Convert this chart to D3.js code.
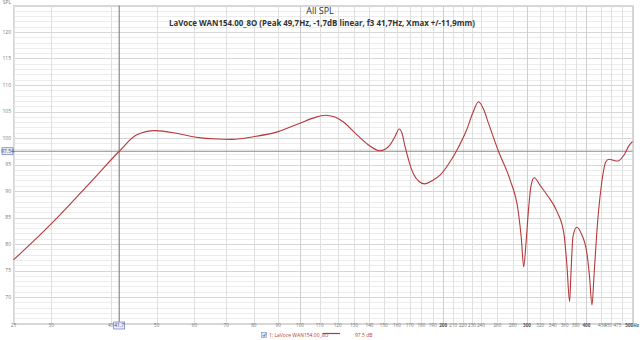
<!DOCTYPE html>
<html lang="en">
<head>
<meta charset="UTF-8">
<title>All SPL</title>
<script src="https://d3js.org/d3.v7.min.js"></script>
<style>
    body { margin: 0; background: #fff; }
    svg { display: block; font-family: "Open Sans", "Noto Sans", sans-serif; }
    .tick-label { font-size: 5px; fill: #777; }
    .x-label { font-size: 4.6px; }
</style>
</head>
<body>
<svg width="640" height="340"></svg>
<script>
// frequency (Hz) and SPL (dB)
const freqs = [25, 30, 33.9, 37.4, 41.7, 45.4, 49.6, 55, 60, 67, 72, 80, 90, 100, 107, 113, 118, 123,
    131.8, 140.3, 147.3, 154.7, 158.5, 161.7, 164, 166.3, 173, 178, 183, 190, 197, 205, 213.7, 224,
    231, 237.3, 243, 249, 261.6, 276.5, 288, 292, 295.3, 298.5, 302.6, 306, 310.7, 320, 330.7, 347,
    358.7, 364, 368.8, 371, 375, 382, 390, 401, 406, 411, 415, 421, 430, 439.5, 446, 455, 465, 480,
    492, 500];
const spl = [77.0, 83.8, 88.8, 92.9, 97.5, 100.6, 101.4, 100.9, 100.2, 99.8, 99.75, 100.25, 101.2, 102.8,
    103.8, 104.3, 104.0, 103.1, 100.6, 98.5, 97.6, 98.7, 100.3, 101.7, 100.8, 98.4, 93.3, 91.8, 91.35,
    92.0, 93.0, 95.0, 97.7, 101.5, 104.8, 106.85, 105.5, 102.8, 97.4, 92.1, 85.8, 81.0, 75.7, 80.0,
    87.0, 91.0, 92.5, 91.0, 89.25, 86.1, 82.0, 76.0, 69.1, 74.0, 81.5, 83.15, 82.0, 78.25, 74.0, 68.5,
    74.0, 82.6, 91.0, 95.5, 96.0, 95.8, 95.65, 96.8, 98.6, 99.3];

const xTicks = [25, 30, 40, 50, 60, 70, 80, 90, 100, 110, 120, 130, 140, 150, 160, 170, 180, 190, 200,
    210, 220, 230, 240, 260, 280, 300, 320, 340, 360, 380, 400, 430, 450, 475, 500];
const boldTicks = [200, 300, 400, 500];
const yTicks = [70, 75, 80, 85, 90, 95, 100, 105, 110, 115, 120];

const title = "All SPL";
const subtitle = "LaVoce WAN154.00_8O (Peak 49,7Hz, -1,7dB linear, f3 41,7Hz, Xmax +/-11,9mm)";
const legendName = "1: LaVoce WAN154.00_8O";
const cursorFreq = 41.7, cursorSpl = 97.5;

const svg = d3.select("svg");
const plotL = 13.5, plotR = 632.5, plotT = 5.5, plotB = 323.5;

const x = d3.scaleLog().domain([25, 500]).range([plotL, plotR]);
const y = d3.scaleLinear().domain([65, 125]).range([plotB, plotT]);

// horizontal grid, every dB
const grid = svg.append("g");
grid.selectAll(".hg")
    .data(d3.range(65, 126))
    .enter().append("line")
    .attr("x1", plotL).attr("x2", plotR)
    .attr("y1", d => Math.round(y(d)) + 0.5).attr("y2", d => Math.round(y(d)) + 0.5)
    .attr("stroke", d => d % 5 === 0 ? "#d6d6d6" : "#ececec")
    .attr("stroke-width", 1);

// vertical grid
grid.selectAll(".vg")
    .data(xTicks)
    .enter().append("line")
    .attr("x1", d => Math.round(x(d)) + 0.5).attr("x2", d => Math.round(x(d)) + 0.5)
    .attr("y1", plotT).attr("y2", plotB)
    .attr("stroke", d => (d === 100 || boldTicks.includes(d)) ? "#cfcfcf" : "#e0e0e0")
    .attr("stroke-width", 1);

svg.append("rect")
    .attr("x", plotL).attr("y", plotT)
    .attr("width", plotR - plotL).attr("height", plotB - plotT)
    .attr("fill", "none").attr("stroke", "#d8d8d8");

// cursor lines
svg.append("line")
    .attr("x1", plotL).attr("x2", plotR)
    .attr("y1", y(cursorSpl)).attr("y2", y(cursorSpl))
    .attr("stroke", "#8a8a8a").attr("stroke-width", 1.2);
svg.append("line")
    .attr("x1", x(cursorFreq)).attr("x2", x(cursorFreq))
    .attr("y1", plotT).attr("y2", plotB)
    .attr("stroke", "#8a8a8a").attr("stroke-width", 1.2);

// y labels
svg.selectAll(".yl")
    .data(yTicks)
    .enter().append("text")
    .attr("class", "tick-label")
    .attr("x", 11).attr("y", d => y(d) + 1.7)
    .attr("text-anchor", "end")
    .text(d => d);
svg.append("text").attr("class", "tick-label")
    .attr("x", 11).attr("y", 4).attr("text-anchor", "end").text("SPL");

// x labels (the last few nudged left so they don't collide near the edge)
const nudge = { 430: 0.5, 450: -2.5, 475: -4.5 };
svg.selectAll(".xl")
    .data(xTicks)
    .enter().append("text")
    .attr("class", "tick-label x-label")
    .attr("x", d => d === 500 ? 639 : x(d))
    .attr("dx", d => nudge[d] || 0)
    .attr("y", 327)
    .attr("text-anchor", d => d === 500 ? "end" : "middle")
    .style("font-weight", d => boldTicks.includes(d) ? "bold" : "normal")
    .style("fill", d => boldTicks.includes(d) ? "#555" : "#777")
    .text(d => d === 500 ? "500Hz" : d);

// cursor value boxes
function cursorBox(cx, cy, label) {
    const g = svg.append("g");
    g.append("rect")
        .attr("x", cx - 5.5).attr("y", cy - 3.5)
        .attr("width", 11).attr("height", 7)
        .attr("fill", "#e8ecf8").attr("stroke", "#5468b0").attr("stroke-width", 0.6);
    g.append("text").attr("class", "tick-label")
        .attr("x", cx).attr("y", cy + 1.8)
        .attr("text-anchor", "middle")
        .style("fill", "#3a4a90")
        .text(label);
}
cursorBox(7.5, y(cursorSpl), "97.54");
cursorBox(x(cursorFreq), 325.5, "41.7");

// the trace
const line = d3.line()
    .x((d, i) => x(freqs[i]))
    .y(d => y(d))
    .curve(d3.curveMonotoneX);
svg.append("path")
    .datum(spl)
    .attr("d", line)
    .attr("fill", "none")
    .attr("stroke", "#b5393b")
    .attr("stroke-width", 1.1);

// titles
svg.append("text")
    .attr("x", 320).attr("y", 14)
    .attr("text-anchor", "middle")
    .style("font-size", "9px").style("fill", "#333")
    .text(title);
svg.append("text")
    .attr("x", 322).attr("y", 26)
    .attr("text-anchor", "middle")
    .style("font-size", "7.9px").style("font-weight", "bold").style("fill", "#333")
    .text(subtitle);

// legend
const lg = svg.append("g");
lg.append("rect")
    .attr("x", 261.5).attr("y", 332.5).attr("width", 5).attr("height", 5)
    .attr("fill", "#dfe8f6").attr("stroke", "#6b8cc0").attr("stroke-width", 0.6);
lg.append("path")
    .attr("d", "M262.7,335 L264,336.4 L265.8,333.6")
    .attr("fill", "none").attr("stroke", "#2a4f8a").attr("stroke-width", 0.7);
lg.append("text").attr("class", "tick-label")
    .attr("x", 269).attr("y", 336.8)
    .style("fill", "#c03838")
    .text(legendName);
lg.append("line")
    .attr("x1", 323).attr("x2", 340).attr("y1", 333.5).attr("y2", 333.5)
    .attr("stroke", "#b5393b").attr("stroke-width", 1.2);
lg.append("text").attr("class", "tick-label")
    .attr("x", 355).attr("y", 336.8)
    .style("fill", "#c03838")
    .text(cursorSpl + " dB");
</script>
</body>
</html>
